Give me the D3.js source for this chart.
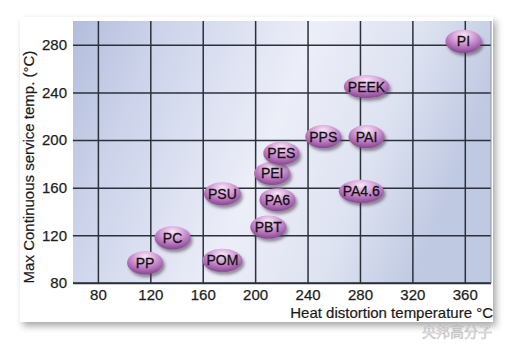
<!DOCTYPE html>
<html>
<head>
<meta charset="utf-8">
<script src="https://cdn.jsdelivr.net/npm/d3@7"></script>
<style>
  html, body { margin: 0; padding: 0; background: #fff; }
  svg { display: block; font-family: "Liberation Sans", Arial, sans-serif; }
  .axis path { display: none; }
  .axis line { stroke: #2b303b; stroke-width: 1.5; }
  .axis text { fill: #1e1e1e; font-size: 15px; stroke: #1e1e1e; stroke-width: 0.25; }
  .axis-title { fill: #1a1a1a; font-size: 15px; stroke: #1a1a1a; stroke-width: 0.2; }
  .bubble text { fill: #111; font-size: 14px; stroke: #111; stroke-width: 0.3; }
</style>
</head>
<body>
<svg id="chart" width="514" height="346"></svg>
<script>
// Polymers: heat distortion temperature (°C) vs. max continuous service temp (°C)
const polymers = ['PP', 'PC', 'POM', 'PSU', 'PBT', 'PA6', 'PEI', 'PES', 'PPS', 'PAI', 'PEEK', 'PA4.6', 'PI'];
const heatDistortion = [116, 137, 175, 175, 210, 217, 213, 220, 252, 285, 285, 281, 359];
const serviceTemp = [97, 118, 99, 155, 127, 150, 172, 189, 203, 203, 245, 157, 283];
const xTicks = [80, 120, 160, 200, 240, 280, 320, 360];
const yTicks = [80, 120, 160, 200, 240, 280];

const chart = d3.select('#chart');
const plot = {left: 73, top: 21, right: 491, bottom: 283};

const x = d3.scaleLinear().domain([61, 380]).range([plot.left, plot.right]);
const y = d3.scaleLinear().domain([80, 300]).range([plot.bottom, plot.top]);

const defs = chart.append('defs');

const panelShadow = defs.append('filter').attr('id', 'panel-shadow')
  .attr('x', '-5%').attr('y', '-5%').attr('width', '112%').attr('height', '115%');
panelShadow.append('feDropShadow')
  .attr('dx', 3).attr('dy', 4).attr('stdDeviation', 3.5)
  .attr('flood-color', '#000').attr('flood-opacity', 0.35);

const bubbleShadow = defs.append('filter').attr('id', 'bubble-shadow')
  .attr('x', '-30%').attr('y', '-40%').attr('width', '160%').attr('height', '200%');
bubbleShadow.append('feGaussianBlur').attr('stdDeviation', 1.8);

const bg = defs.append('linearGradient').attr('id', 'plot-bg')
  .attr('x1', 0).attr('y1', 0).attr('x2', 1).attr('y2', 0.25);
[[0, '#b3bddc'], [0.2, '#ccd3ea'], [0.55, '#eceef8'], [0.8, '#dde2f1'], [1, '#c0c9e2']]
  .forEach(([o, c]) => bg.append('stop').attr('offset', o).attr('stop-color', c));

const bubbleFill = defs.append('radialGradient').attr('id', 'bubble-fill')
  .attr('cx', '50%').attr('cy', '30%').attr('r', '70%').attr('fx', '50%').attr('fy', '22%');
[[0, '#f6e6f6'], [0.35, '#deafdf'], [0.72, '#b470ba'], [1, '#86488f']]
  .forEach(([o, c]) => bubbleFill.append('stop').attr('offset', o).attr('stop-color', c));

// white card with shadow
chart.append('rect')
  .attr('x', 20).attr('y', 17).attr('width', 473).attr('height', 305)
  .attr('fill', '#fff').attr('filter', 'url(#panel-shadow)');

chart.append('rect')
  .attr('x', plot.left).attr('y', plot.top)
  .attr('width', plot.right - plot.left).attr('height', plot.bottom - plot.top)
  .attr('fill', 'url(#plot-bg)');

const xAxis = d3.axisBottom(x).tickValues(xTicks)
  .tickSize(-(plot.bottom - plot.top)).tickPadding(6);
chart.append('g')
  .attr('class', 'axis axis--x')
  .attr('transform', `translate(0,${plot.bottom})`)
  .call(xAxis);

const yAxis = d3.axisLeft(y).tickValues(yTicks)
  .tickSize(-(plot.right - plot.left)).tickPadding(6);
chart.append('g')
  .attr('class', 'axis axis--y')
  .attr('transform', `translate(${plot.left},0)`)
  .call(yAxis);

// bottom and right frame lines
chart.append('line')
  .attr('x1', plot.left).attr('x2', plot.right)
  .attr('y1', plot.bottom).attr('y2', plot.bottom)
  .attr('stroke', '#2b303b').attr('stroke-width', 1.6);
chart.append('line')
  .attr('x1', plot.right).attr('x2', plot.right)
  .attr('y1', plot.top).attr('y2', plot.bottom)
  .attr('stroke', '#8a90a0').attr('stroke-width', 1);

chart.append('text')
  .attr('class', 'axis-title')
  .attr('transform', `translate(34,${(plot.top + plot.bottom) / 2 + 15}) rotate(-90)`)
  .attr('text-anchor', 'middle')
  .text('Max Continuous service temp. (°C)');

chart.append('text')
  .attr('class', 'axis-title')
  .attr('x', 493).attr('y', 318)
  .attr('text-anchor', 'end')
  .text('Heat distortion temperature °C');

// watermark
chart.append('text')
  .attr('x', 422).attr('y', 337)
  .attr('font-family', '"Noto Sans CJK SC", sans-serif')
  .attr('font-size', 14)
  .attr('fill', '#fff').attr('fill-opacity', 0.8)
  .attr('stroke', '#9a9a9a').attr('stroke-width', 0.6).attr('stroke-opacity', 0.7)
  .text('央邦高分子');

const data = polymers.map((name, i) => ({name, hdt: heatDistortion[i], temp: serviceTemp[i]}));

const bubbles = chart.append('g').selectAll('g')
  .data(data)
  .join('g')
  .attr('class', 'bubble')
  .attr('transform', d => `translate(${x(d.hdt)},${y(d.temp)})`);

const shadow = bubbles.append('ellipse')
  .attr('cx', 2).attr('cy', 3)
  .attr('fill', '#3e2844').attr('fill-opacity', 0.5)
  .attr('filter', 'url(#bubble-shadow)');

const shape = bubbles.append('ellipse')
  .attr('fill', 'url(#bubble-fill)');

const labels = bubbles.append('text')
  .attr('text-anchor', 'middle')
  .attr('dy', '0.36em')
  .text(d => d.name);

labels.each(function(d) {
  d.rx = Math.max(18, this.getComputedTextLength() / 2 + 4);
});
shape.attr('rx', d => d.rx).attr('ry', 11.5);
shadow.attr('rx', d => d.rx).attr('ry', 11.5);
</script>
</body>
</html>
